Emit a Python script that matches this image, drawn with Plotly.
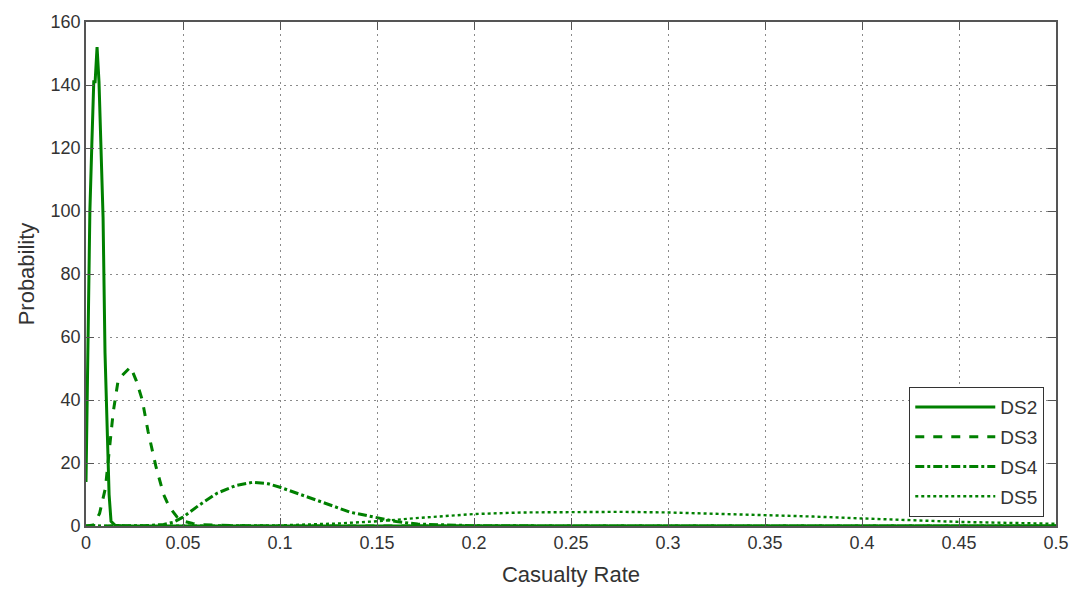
import plotly.graph_objects as go

# Casualty-rate probability densities for damage states DS2..DS5
ds2_x = [0.0, 0.001, 0.002, 0.003, 0.004, 0.0047, 0.0057, 0.0067, 0.0077, 0.0088,
         0.0098, 0.0108, 0.0119, 0.0129, 0.015, 0.02, 0.1, 0.2, 0.3, 0.4, 0.5]
ds2_y = [14, 55, 100, 121, 141, 141, 152, 141, 120, 98,
         55, 33, 10, 1.5, 0.2, 0.0, 0.0, 0.0, 0.0, 0.0, 0.0]

ds3_x = [0.0, 0.004, 0.007, 0.01, 0.012, 0.014, 0.0165, 0.019, 0.023, 0.026, 0.029,
         0.032, 0.036, 0.04, 0.043, 0.047, 0.05, 0.055, 0.06, 0.07, 0.08, 0.1, 0.2,
         0.3, 0.4, 0.5]
ds3_y = [0.0, 0.3, 4, 12, 24, 36, 46, 48, 50.5, 46, 40,
         30, 19, 10, 6, 2.8, 1.6, 0.8, 0.4, 0.15, 0.05, 0.0, 0.0,
         0.0, 0.0, 0.0]

ds4_x = [0.0, 0.02, 0.03, 0.04, 0.045, 0.05, 0.058, 0.0675, 0.077, 0.086, 0.094,
         0.1, 0.11, 0.119, 0.128, 0.136, 0.143, 0.15, 0.16, 0.171, 0.185, 0.2,
         0.25, 0.3, 0.4, 0.5]
ds4_y = [0.0, 0.0, 0.1, 0.5, 1.2, 2.8, 6.5, 10.4, 12.8, 13.9, 13.4,
         12.3, 10.2, 8.2, 6.2, 4.4, 3.5, 2.6, 1.4, 0.6, 0.25, 0.1,
         0.0, 0.0, 0.0, 0.0]

ds5_x = [0.0, 0.05, 0.1, 0.13, 0.15, 0.17, 0.2, 0.225, 0.25, 0.275, 0.3, 0.325,
         0.35, 0.375, 0.4, 0.425, 0.45, 0.475, 0.5]
ds5_y = [0.0, 0.0, 0.2, 0.8, 1.5, 2.5, 3.8, 4.3, 4.5, 4.5, 4.3, 3.9,
         3.5, 3.0, 2.4, 1.8, 1.3, 1.0, 0.7]

x_ticks = [0, 0.05, 0.1, 0.15, 0.2, 0.25, 0.3, 0.35, 0.4, 0.45, 0.5]
x_tick_labels = ["0", "0.05", "0.1", "0.15", "0.2", "0.25", "0.3", "0.35", "0.4", "0.45", "0.5"]
y_ticks = [0, 20, 40, 60, 80, 100, 120, 140, 160]

GREEN = "#008000"
FONT = "Liberation Sans, Arial, sans-serif"
TEXT = "#333333"

fig = go.Figure()
fig.add_trace(go.Scatter(x=ds2_x, y=ds2_y, mode="lines", name="DS2", legendgroup="a",
                         line=dict(color=GREEN, width=3, dash="solid")))
fig.add_trace(go.Scatter(x=ds3_x, y=ds3_y, mode="lines", name="DS3", legendgroup="b",
                         line=dict(color=GREEN, width=3, dash="dash")))
fig.add_trace(go.Scatter(x=ds4_x, y=ds4_y, mode="lines", name="DS4", legendgroup="c",
                         line=dict(color=GREEN, width=3, dash="dashdot")))
fig.add_trace(go.Scatter(x=ds5_x, y=ds5_y, mode="lines", name="DS5", legendgroup="d",
                         line=dict(color=GREEN, width=2.4, dash="dot")))

axis_common = dict(
    showline=True, linecolor="#555555", linewidth=1.6, mirror="ticks",
    ticks="inside", ticklen=8, tickcolor="#555555", tickwidth=1.3,
    showgrid=True, gridcolor="#8a8a8a", griddash="1.5px,4.5px", gridwidth=1.3,
    zeroline=False,
    tickfont=dict(family=FONT, size=18, color=TEXT),
)

fig.update_xaxes(range=[0, 0.5], tickvals=x_ticks, ticktext=x_tick_labels,
                 automargin=False,
                 title=dict(text="Casualty Rate", font=dict(family=FONT, size=22, color=TEXT),
                            standoff=14),
                 **axis_common)
fig.update_yaxes(range=[0, 160], tickvals=y_ticks,
                 automargin=True,
                 title=dict(text="Probability", font=dict(family=FONT, size=22, color=TEXT),
                            standoff=10),
                 **axis_common)

fig.update_layout(
    width=1070, height=592,
    margin=dict(l=86, r=14, t=18, b=66),
    plot_bgcolor="white", paper_bgcolor="white",
    font=dict(family=FONT, color=TEXT),
    legend=dict(x=0.9876, y=0.018, xanchor="right", yanchor="bottom",
                bgcolor="white", bordercolor="#333333", borderwidth=1.3,
                font=dict(family=FONT, size=19, color=TEXT),
                tracegroupgap=2, itemwidth=80),
    showlegend=True,
)

fig.write_html("out.html")
